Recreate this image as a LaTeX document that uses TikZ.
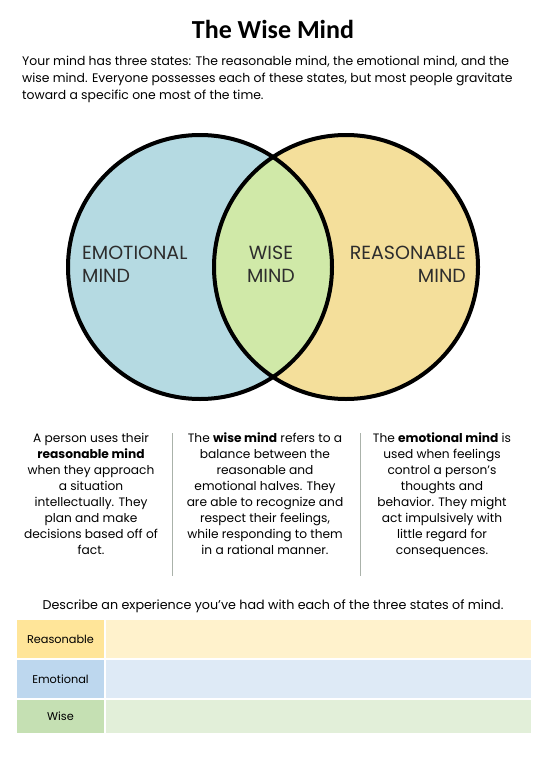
\documentclass[tikz,border=0pt]{standalone}
\usepackage{fontspec}
\setmainfont{Poppins}
\newfontfamily\titlefont{Carlito}
\usetikzlibrary{positioning}
\definecolor{emoblue}{RGB}{181,218,226}
\definecolor{reasyellow}{RGB}{244,223,155}
\definecolor{wisegreen}{RGB}{208,233,168}
\definecolor{inkgray}{RGB}{45,45,45}
\definecolor{rulegray}{RGB}{170,178,170}
\definecolor{reaslbl}{RGB}{255,229,153}
\definecolor{reascell}{RGB}{255,242,204}
\definecolor{emolbl}{RGB}{189,215,238}
\definecolor{emocell}{RGB}{222,234,246}
\definecolor{wiselbl}{RGB}{197,224,179}
\definecolor{wisecell}{RGB}{226,239,217}
\begin{document}
\begin{tikzpicture}[x=1pt,y=-1pt,
    venntext/.style={inner sep=0pt,text=inkgray,font=\fontsize{19}{23}\selectfont},
    coltext/.style={anchor=north,inner sep=0pt,align=center,font=\fontsize{12.2}{16}\selectfont},
    lbltext/.style={inner sep=0pt,font=\fontsize{11.3}{13}\selectfont}]
  \useasboundingbox[fill=white] (0,0) rectangle (545,760);
  % heading
  \node[inner sep=0pt,font=\titlefont\bfseries\fontsize{26}{30}\selectfont] (title) at (273,29) {The Wise Mind};
  \node[anchor=north west,inner sep=0pt,align=left,font=\fontsize{12.4}{17}\selectfont] (intro) at (22,56)
    {Your mind has three states: The reasonable mind, the emotional mind, and the\\
     wise mind. Everyone possesses each of these states, but most people gravitate\\
     toward a specific one most of the time.};
  % venn diagram
  \fill[emoblue] (200,267) circle (132);
  \fill[reasyellow] (346,267) circle (132);
  \begin{scope}
    \clip (200,267) circle (132);
    \fill[wisegreen] (346,267) circle (132);
  \end{scope}
  \draw[line width=4pt] (200,267) circle (132);
  \draw[line width=4pt] (346,267) circle (132);
  \node[venntext,anchor=west,align=left] (emo) at (82,264) {EMOTIONAL\\MIND};
  \node[venntext,align=center] (wise) at (271,264) {WISE\\MIND};
  \node[venntext,anchor=east,align=right] (reas) at (466,264) {REASONABLE\\MIND};
  % three columns
  \node[coltext] (colreas) at (91,433)
    {A person uses their\\ \textbf{reasonable mind}\\ when they approach\\ a situation\\
     intellectually. They\\ plan and make\\ decisions based off of\\ fact.};
  \node[coltext] (colwise) at (265,433)
    {The \textbf{wise mind} refers to a\\ balance between the\\ reasonable and\\
     emotional halves. They\\ are able to recognize and\\ respect their feelings,\\
     while responding to them\\ in a rational manner.};
  \node[coltext] (colemo) at (442,433)
    {The \textbf{emotional mind} is\\ used when feelings\\ control a person’s\\
     thoughts and\\ behavior. They might\\ act impulsively with\\ little regard for\\
     consequences.};
  \draw[rulegray,line width=1pt] (172,433) -- (172,576);
  \draw[rulegray,line width=1pt] (360,433) -- (360,576);
  % table
  \node[inner sep=0pt,font=\fontsize{12.7}{15}\selectfont] (describe) at (273,606)
    {Describe an experience you’ve had with each of the three states of mind.};
  \foreach \top/\bot/\name/\lblcol/\cellcol in
      {620/658/Reasonable/reaslbl/reascell,660/698/Emotional/emolbl/emocell,700/733/Wise/wiselbl/wisecell} {
    \fill[\lblcol] (17,\top) rectangle (104,\bot);
    \fill[\cellcol] (106,\top) rectangle (531,\bot);
    \node[lbltext] (lbl\name) at (60.5,{(\top+\bot)/2}) {\name};
  }
\end{tikzpicture}
\end{document}
